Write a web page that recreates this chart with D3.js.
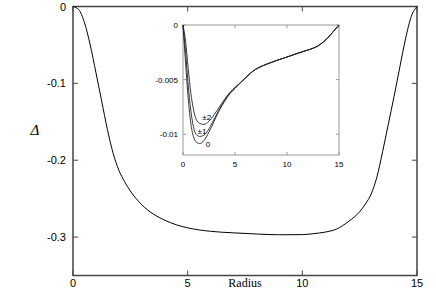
<!DOCTYPE html>
<html><head><meta charset="utf-8">
<script src="https://cdn.jsdelivr.net/npm/d3@7"></script>
<style>body{margin:0;background:#fff}svg{display:block}</style>
</head><body>
<svg id="c" width="436" height="306"></svg>
<script>
// Main curve
const mainR = [0,0.25,0.5,0.75,1.0,1.25,1.5,1.75,2.0,2.25,2.5,3.0,3.5,4,4.5,5,6,7,8,9,10,10.5,11,11.5,12,12.5,12.75,13,13.25,13.5,13.75,14,14.25,14.5,14.75,15];
const mainD = [0,-0.004,-0.021,-0.050,-0.086,-0.123,-0.160,-0.191,-0.213,-0.228,-0.240,-0.258,-0.270,-0.278,-0.284,-0.288,-0.2925,-0.2945,-0.296,-0.297,-0.2968,-0.2955,-0.2935,-0.2895,-0.280,-0.267,-0.257,-0.244,-0.222,-0.189,-0.153,-0.117,-0.079,-0.042,-0.013,0];
// Inset curves
const insetR = [0,0.25,0.5,0.75,1.0,1.25,1.6,2.0,2.5,3.0,3.5,4.0,4.5,5,5.5,6,6.5,7,7.5,8,9,10,11,12,12.5,13,13.5,14,14.5,15];
const inset0 = [0,-0.0035,-0.0067,-0.0090,-0.0102,-0.0107,-0.01085,-0.0106,-0.0098,-0.0088,-0.0078,-0.0070,-0.0063,-0.0058,-0.0053,-0.00485,-0.0044,-0.00405,-0.0038,-0.0036,-0.00325,-0.00293,-0.0026,-0.00229,-0.00213,-0.0019,-0.00155,-0.0011,-0.00055,0];
const inset1 = [0,-0.0025,-0.0055,-0.0078,-0.0093,-0.0100,-0.0102,-0.0101,-0.0095,-0.0086,-0.0077,-0.0069,-0.0062,-0.0058,-0.0053,-0.00485,-0.0044,-0.00405,-0.0038,-0.0036,-0.00325,-0.00293,-0.0026,-0.00229,-0.00213,-0.0019,-0.00155,-0.0011,-0.00055,0];
const inset2 = [0,-0.0015,-0.0040,-0.0062,-0.0077,-0.0086,-0.0090,-0.0091,-0.0088,-0.0082,-0.0075,-0.0068,-0.0062,-0.0057,-0.0053,-0.00485,-0.0044,-0.00405,-0.0038,-0.0036,-0.00325,-0.00293,-0.0026,-0.00229,-0.00213,-0.0019,-0.00155,-0.0011,-0.00055,0];
const insetLabels = ["0","±1","±2"];
const mainXTicks = [0,5,10,15];
const mainYTicks = [0,-0.1,-0.2,-0.3];
const insetXTicks = [0,5,10,15];
const insetYTicks = [0,-0.005,-0.01];

const svg = d3.select("#c");
const x = d3.scaleLinear().domain([0,15]).range([73,417]);
const y = d3.scaleLinear().domain([-0.35,0]).range([275.5,6.5]);

const fmt = d => d===0 ? "0" : String(d);
const g = svg.append("g");
const frameCol = "#444";
mainXTicks.forEach(t=>{
  g.append("line").attr("x1",x(t)).attr("x2",x(t)).attr("y1",y(-0.35)).attr("y2",y(-0.35)-5).attr("stroke",frameCol);
  g.append("line").attr("x1",x(t)).attr("x2",x(t)).attr("y1",y(0)).attr("y2",y(0)+5).attr("stroke",frameCol);
  g.append("text").attr("x",x(t)).attr("y",287).attr("text-anchor","middle")
    .attr("font-family","Liberation Sans, Arial, sans-serif").attr("font-size",11).text(fmt(t));
});
mainYTicks.forEach(t=>{
  g.append("line").attr("x1",x(0)).attr("x2",x(0)+5).attr("y1",y(t)).attr("y2",y(t)).attr("stroke",frameCol);
  g.append("line").attr("x1",x(15)).attr("x2",x(15)-5).attr("y1",y(t)).attr("y2",y(t)).attr("stroke",frameCol);
  g.append("text").attr("x",66).attr("y",y(t)+4).attr("text-anchor","end")
    .attr("font-family","Liberation Sans, Arial, sans-serif").attr("font-size",11).text(fmt(t));
});
g.append("rect").attr("x",x(0)).attr("y",y(0)).attr("width",x(15)-x(0)).attr("height",y(-0.35)-y(0))
  .attr("fill","none").attr("stroke",frameCol).attr("stroke-width",1.5);

const line = d3.line().x(d=>x(d[0])).y(d=>y(d[1])).curve(d3.curveMonotoneX);
g.append("path").attr("d",line(mainR.map((r,i)=>[r,mainD[i]]))).attr("fill","none").attr("stroke","#000").attr("stroke-width",1);

g.append("text").attr("x",245).attr("y",287).attr("text-anchor","middle")
  .attr("font-family","Liberation Serif, Times New Roman, serif").attr("font-size",12).text("Radius");
g.append("text").attr("x",35).attr("y",135).attr("text-anchor","middle").attr("font-style","italic")
  .attr("font-family","Liberation Serif, Times New Roman, serif").attr("font-size",15).text("Δ");

// inset
const xi = d3.scaleLinear().domain([0,15]).range([183,339]);
const yi = d3.scaleLinear().domain([-0.0119,0]).range([155,25]);
const ig = svg.append("g");
const icol = "#999";
insetXTicks.forEach(t=>{
  ig.append("line").attr("x1",xi(t)).attr("x2",xi(t)).attr("y1",yi(-0.0119)).attr("y2",yi(-0.0119)-3).attr("stroke",icol);
  ig.append("line").attr("x1",xi(t)).attr("x2",xi(t)).attr("y1",yi(0)).attr("y2",yi(0)+3).attr("stroke",icol);
  ig.append("text").attr("x",xi(t)).attr("y",167).attr("text-anchor","middle")
    .attr("font-family","Liberation Sans, Arial, sans-serif").attr("font-size",8).text(fmt(t));
});
insetYTicks.forEach(t=>{
  ig.append("line").attr("x1",xi(0)).attr("x2",xi(0)+3).attr("y1",yi(t)).attr("y2",yi(t)).attr("stroke",icol);
  ig.append("line").attr("x1",xi(15)).attr("x2",xi(15)-3).attr("y1",yi(t)).attr("y2",yi(t)).attr("stroke",icol);
  ig.append("text").attr("x",178).attr("y",yi(t)+3).attr("text-anchor","end")
    .attr("font-family","Liberation Sans, Arial, sans-serif").attr("font-size",8).text(fmt(t));
});
ig.append("rect").attr("x",xi(0)).attr("y",yi(0)).attr("width",xi(15)-xi(0)).attr("height",yi(-0.0119)-yi(0))
  .attr("fill","none").attr("stroke",icol).attr("stroke-width",1);
const iline = d3.line().x(d=>xi(d[0])).y(d=>yi(d[1])).curve(d3.curveMonotoneX);
[inset0,inset1,inset2].forEach(s=>{
  ig.append("path").attr("d",iline(insetR.map((r,i)=>[r,s[i]]))).attr("fill","none").attr("stroke","#222").attr("stroke-width",0.9);
});
const labPos = [[2.4,-0.0109],[1.83,-0.00968],[2.28,-0.00842]];
insetLabels.forEach((l,i)=>{
  ig.append("text").attr("x",xi(labPos[i][0])).attr("y",yi(labPos[i][1])+3).attr("text-anchor","middle")
    .attr("font-family","Liberation Sans, Arial, sans-serif").attr("font-size",8).text(l);
});
</script>
</body></html>
